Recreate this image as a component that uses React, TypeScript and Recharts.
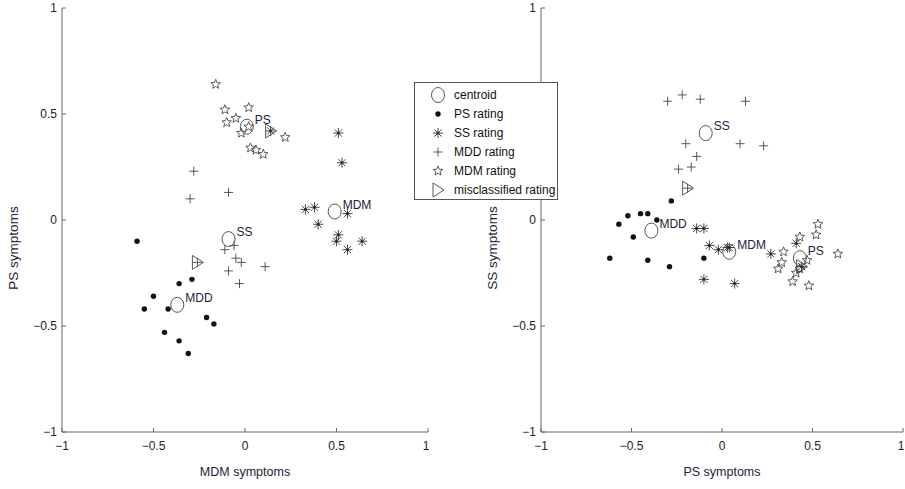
import { ScatterChart, Scatter, XAxis, YAxis } from 'recharts';

// values: [x, y]
const TICKS = [-1, -0.5, 0, 0.5, 1];

// left panel: MDM symptoms (x) vs PS symptoms (y)
const psRatingLeft = [
  [-0.59, -0.1], [-0.36, -0.3], [-0.29, -0.28], [-0.5, -0.36], [-0.55, -0.42], [-0.42, -0.42],
  [-0.21, -0.46], [-0.17, -0.49], [-0.44, -0.53], [-0.36, -0.57], [-0.31, -0.63],
];
const ssRatingLeft = [
  [0.51, 0.41], [0.53, 0.27], [0.33, 0.05], [0.38, 0.06], [0.56, 0.03], [0.4, -0.02],
  [0.51, -0.07], [0.5, -0.1], [0.64, -0.1], [0.56, -0.14], [0.14, 0.42],
];
const mddRatingLeft = [
  [-0.28, 0.23], [-0.09, 0.13], [-0.3, 0.1], [-0.11, -0.14], [-0.06, -0.12], [-0.05, -0.18],
  [-0.02, -0.2], [0.11, -0.22], [-0.09, -0.24], [-0.03, -0.3], [-0.26, -0.2],
];
const mdmRatingLeft = [
  [-0.16, 0.64], [-0.11, 0.52], [0.02, 0.53], [-0.1, 0.46], [-0.05, 0.48], [0.02, 0.44],
  [-0.02, 0.41], [0.22, 0.39], [0.03, 0.34], [0.06, 0.33], [0.1, 0.31],
];
const centroidNamesLeft = ['PS', 'SS', 'MDD', 'MDM'];
const centroidsLeft = [[0.01, 0.44], [-0.09, -0.09], [-0.37, -0.4], [0.49, 0.04]];
const misclassifiedLeft = [[0.14, 0.42], [-0.26, -0.2]];

// right panel: PS symptoms (x) vs SS symptoms (y)
const psRatingRight = [
  [-0.28, 0.09], [-0.52, 0.02], [-0.45, 0.03], [-0.41, 0.03], [-0.57, -0.02], [-0.36, 0.0],
  [-0.49, -0.08], [-0.62, -0.18], [-0.41, -0.19], [-0.29, -0.22], [-0.1, -0.18],
];
const ssRatingRight = [
  [-0.14, -0.04], [-0.1, -0.04], [-0.07, -0.12], [-0.02, -0.14], [0.03, -0.13], [0.04, -0.13],
  [-0.1, -0.28], [0.07, -0.3], [0.27, -0.16], [0.41, -0.11], [0.44, -0.22],
];
const mddRatingRight = [
  [-0.3, 0.56], [-0.22, 0.59], [-0.12, 0.57], [0.13, 0.56], [-0.2, 0.36], [0.1, 0.36],
  [0.23, 0.35], [-0.14, 0.3], [-0.17, 0.25], [-0.24, 0.24], [-0.19, 0.15],
];
const mdmRatingRight = [
  [0.53, -0.02], [0.52, -0.07], [0.43, -0.08], [0.64, -0.16], [0.34, -0.15], [0.33, -0.2],
  [0.31, -0.23], [0.47, -0.19], [0.41, -0.25], [0.39, -0.29], [0.48, -0.31], [0.43, -0.23],
];
const centroidNamesRight = ['SS', 'MDD', 'MDM', 'PS'];
const centroidsRight = [[-0.09, 0.41], [-0.39, -0.05], [0.04, -0.15], [0.43, -0.18]];
const misclassifiedRight = [[-0.19, 0.15], [0.44, -0.22]];

const LEGEND = [
  { kind: 'centroid', label: 'centroid' },
  { kind: 'dot', label: 'PS rating' },
  { kind: 'asterisk', label: 'SS rating' },
  { kind: 'plus', label: 'MDD rating' },
  { kind: 'star', label: 'MDM rating' },
  { kind: 'tri', label: 'misclassified rating' },
];

const FONT = '"Liberation Sans", Arial, sans-serif';
const AXIS = '#666';
const TEXT = '#1c2238';

const toPts = (arr: number[][], names?: string[]) =>
  arr.map(([x, y], i) => ({ x, y, name: names ? names[i] : '' }));

const fmt = (v: number) => (v < 0 ? '\u2212' + Math.abs(v) : String(v));

function starPath(cx: number, cy: number, R: number, r: number) {
  const pts: string[] = [];
  for (let i = 0; i < 10; i++) {
    const a = -Math.PI / 2 + (i * Math.PI) / 5;
    const rad = i % 2 === 0 ? R : r;
    pts.push(`${(cx + rad * Math.cos(a)).toFixed(2)},${(cy + rad * Math.sin(a)).toFixed(2)}`);
  }
  return 'M' + pts.join('L') + 'Z';
}

function Marker({ kind, cx, cy }: { kind: string; cx: number; cy: number }) {
  if (cx == null || cy == null) return null;
  switch (kind) {
    case 'dot':
      return <circle cx={cx} cy={cy} r={2.7} fill="#111" />;
    case 'plus':
      return (
        <path d={`M${cx - 4.5},${cy}h9M${cx},${cy - 4.5}v9`} stroke="#444" strokeWidth={0.9} fill="none" />
      );
    case 'asterisk':
      return (
        <g stroke="#333" strokeWidth={0.9}>
          <path d={`M${cx - 5},${cy}h10M${cx},${cy - 5}v10M${cx - 3.6},${cy - 3.6}l7.2,7.2M${cx - 3.6},${cy + 3.6}l7.2,-7.2`} />
          <circle cx={cx} cy={cy} r={1} fill="#111" />
        </g>
      );
    case 'star':
      return <path d={starPath(cx, cy, 5, 2.2)} stroke="#333" strokeWidth={0.8} fill="none" />;
    case 'tri':
      return (
        <path d={`M${cx - 5},${cy - 7}L${cx + 6},${cy}L${cx - 5},${cy + 7}Z`} stroke="#444" strokeWidth={0.9} fill="none" />
      );
    case 'centroid':
      return <ellipse cx={cx} cy={cy} rx={6.5} ry={7.5} stroke="#555" strokeWidth={1} fill="none" />;
    default:
      return null;
  }
}

const centroidShape = (p: any) => (
  <g>
    <Marker kind="centroid" cx={p.cx} cy={p.cy} />
    <text x={p.cx + 8} y={p.cy - 3} fontSize={12} fontFamily={FONT} fill={TEXT}>
      {p.payload?.name}
    </text>
  </g>
);

// rotated y-axis title, sitting a little below the middle of the axis as in the figure
const yLabel = (text: string) => (props: any) => {
  const vb = props.viewBox || {};
  const cx = 13;
  const cy = (vb.y ?? 8) + (vb.height ?? 424) / 2 + 28;
  return (
    <text
      x={cx}
      y={cy}
      transform={`rotate(-90 ${cx} ${cy})`}
      textAnchor="middle"
      dominantBaseline="central"
      fontSize={13.5}
      fontFamily={FONT}
      fill={TEXT}
    >
      {text}
    </text>
  );
};

interface PanelProps {
  left: number;
  width: number;
  xLabel: string;
  yLabel: string;
  dots: number[][];
  asterisks: number[][];
  pluses: number[][];
  stars: number[][];
  centroids: number[][];
  names: string[];
  mis: number[][];
}

function Panel(p: PanelProps) {
  const tickStyle = { fill: '#222', fontSize: 12, fontFamily: FONT };
  return (
    <div style={{ position: 'absolute', left: p.left, top: 0 }}>
      <ScatterChart width={p.width} height={489} margin={{ top: 8, right: 1, left: 0, bottom: 0 }}>
        <XAxis
          type="number"
          dataKey="x"
          domain={[-1, 1]}
          ticks={TICKS}
          tickFormatter={fmt}
          height={57}
          tickSize={-4}
          tickMargin={13}
          stroke={AXIS}
          tick={tickStyle}
          allowDataOverflow
          label={{ value: p.xLabel, position: 'insideBottom', offset: 13, style: { fill: TEXT, fontSize: 12.5, fontFamily: FONT } }}
        />
        <XAxis
          xAxisId="top"
          orientation="top"
          type="number"
          domain={[-1, 1]}
          ticks={TICKS}
          tickFormatter={() => ''}
          height={0}
          tickSize={-4}
          stroke={AXIS}
        />
        <YAxis
          type="number"
          dataKey="y"
          domain={[-1, 1]}
          ticks={TICKS}
          tickFormatter={fmt}
          width={62}
          tickSize={-4}
          tickMargin={9}
          stroke={AXIS}
          tick={tickStyle}
          allowDataOverflow
          label={{ content: yLabel(p.yLabel) }}
        />
        <YAxis
          yAxisId="right"
          orientation="right"
          type="number"
          domain={[-1, 1]}
          ticks={TICKS}
          tickFormatter={() => ''}
          width={0}
          tickSize={-4}
          stroke={AXIS}
        />
        <Scatter data={toPts(p.dots)} isAnimationActive={false} shape={(s: any) => <Marker kind="dot" cx={s.cx} cy={s.cy} />} />
        <Scatter data={toPts(p.asterisks)} isAnimationActive={false} shape={(s: any) => <Marker kind="asterisk" cx={s.cx} cy={s.cy} />} />
        <Scatter data={toPts(p.pluses)} isAnimationActive={false} shape={(s: any) => <Marker kind="plus" cx={s.cx} cy={s.cy} />} />
        <Scatter data={toPts(p.stars)} isAnimationActive={false} shape={(s: any) => <Marker kind="star" cx={s.cx} cy={s.cy} />} />
        <Scatter data={toPts(p.centroids, p.names)} isAnimationActive={false} shape={centroidShape} />
        <Scatter data={toPts(p.mis)} isAnimationActive={false} shape={(s: any) => <Marker kind="tri" cx={s.cx} cy={s.cy} />} />
      </ScatterChart>
    </div>
  );
}

export default function App() {
  return (
    <div style={{ position: 'absolute', left: 0, top: 0, width: 905, height: 489, background: '#fff', overflow: 'hidden' }}>
      <Panel
        left={0}
        width={429}
        xLabel="MDM symptoms"
        yLabel="PS symptoms"
        dots={psRatingLeft}
        asterisks={ssRatingLeft}
        pluses={mddRatingLeft}
        stars={mdmRatingLeft}
        centroids={centroidsLeft}
        names={centroidNamesLeft}
        mis={misclassifiedLeft}
      />
      <Panel
        left={479}
        width={425}
        xLabel="PS symptoms"
        yLabel="SS symptoms"
        dots={psRatingRight}
        asterisks={ssRatingRight}
        pluses={mddRatingRight}
        stars={mdmRatingRight}
        centroids={centroidsRight}
        names={centroidNamesRight}
        mis={misclassifiedRight}
      />
      <div
        style={{
          position: 'absolute', left: 414, top: 82, width: 142, height: 114,
          border: '1px solid #555', background: '#fff', fontFamily: FONT, fontSize: 12, color: '#111',
          paddingTop: 2, boxSizing: 'content-box',
        }}
      >
        {LEGEND.map((l) => (
          <div key={l.label} style={{ display: 'flex', alignItems: 'center', height: 19.1 }}>
            <svg width={36} height={18} style={{ flex: 'none' }}>
              <Marker kind={l.kind} cx={23} cy={9} />
            </svg>
            <span style={{ marginLeft: 3, whiteSpace: 'nowrap' }}>{l.label}</span>
          </div>
        ))}
      </div>
    </div>
  );
}
